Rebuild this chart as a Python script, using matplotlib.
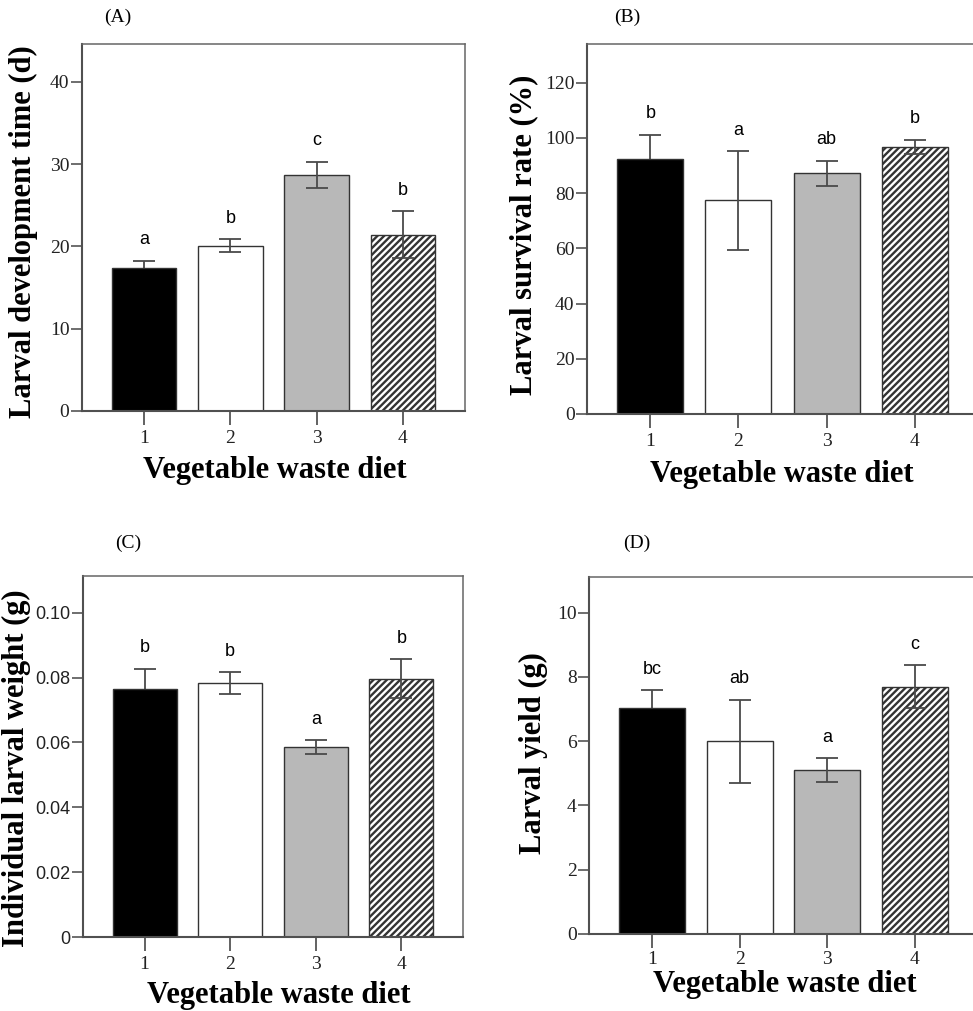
import matplotlib
matplotlib.use("Agg")
import matplotlib.pyplot as plt
import numpy as np

# data
diets = [1, 2, 3, 4]

dev_time = [17.4, 20.1, 28.7, 21.4]
dev_time_err = [0.85, 0.8, 1.6, 2.85]
dev_time_grp = ["a", "b", "c", "b"]

survival = [92.5, 77.4, 87.2, 96.7]
survival_err = [8.7, 17.9, 4.5, 2.7]
survival_grp = ["b", "a", "ab", "b"]

weight = [0.0764, 0.0782, 0.0585, 0.0796]
weight_err = [0.0063, 0.0034, 0.0021, 0.0060]
weight_grp = ["b", "b", "a", "b"]

yield_g = [7.04, 6.0, 5.1, 7.7]
yield_err = [0.54, 1.29, 0.37, 0.66]
yield_grp = ["bc", "ab", "a", "c"]

plt.rcParams['hatch.linewidth'] = 1.7
plt.rcParams['hatch.color'] = '#000000'

W, H = 973, 1011
fig = plt.figure(figsize=(W / 100, H / 100), dpi=100)

serif = 'Liberation Serif'
sans = 'Liberation Sans'

faces = ['#000000', '#ffffff', '#b8b8b8', '#ffffff']
hatches = [None, None, None, '/////']
ecol = '#4a4a4a'


def px_axes(l, t, r, b):
    return fig.add_axes([l / W, 1 - b / H, (r - l) / W, (b - t) / H])


def panel(ax, vals, errs, grps, ymax, yticks, ytl, ylabel, ytick_font,
          ylab_xy, xlab_xy, letter, letter_xy, xpad=4):
    bars = ax.bar(diets, vals, width=0.75, color=faces, edgecolor='#333333',
                  linewidth=1.0, zorder=2)
    for b, h in zip(bars, hatches):
        if h:
            b.set_hatch(h)
    # black bars: error bar sits behind the bar, so only the upper half shows
    for x, v, e, f in zip(diets, vals, errs, faces):
        z = 1 if f == '#000000' else 3
        ax.errorbar([x], [v], yerr=[e], fmt='none', ecolor=ecol,
                    elinewidth=1.3, capsize=8, capthick=1.3, zorder=z)
    for x, v, e, g in zip(diets, vals, errs, grps):
        ax.annotate(g, (x, v + e), xytext=(0, 15), textcoords='offset points',
                    ha='center', va='center', fontsize=13, family=sans)
    ax.set_xlim(0.28, 4.72)
    ax.set_ylim(0, ymax)
    ax.set_xticks(diets)
    ax.set_xticklabels([str(d) for d in diets], family=serif, fontsize=14)
    ax.set_yticks(yticks)
    ax.set_yticklabels(ytl, family=ytick_font, fontsize=14 if ytick_font == serif else 13)
    ax.tick_params(axis='x', length=10, width=1.3, color='#555555', pad=xpad,
                   labelcolor='#222222')
    ax.tick_params(axis='y', length=8, width=1.2, color='#555555', pad=1,
                   labelcolor='#222222')
    for s in ['left', 'bottom']:
        ax.spines[s].set_color('#505050')
        ax.spines[s].set_linewidth(1.5)
    for s in ['top', 'right']:
        ax.spines[s].set_color('#666666')
        ax.spines[s].set_linewidth(1.1)
    ax.set_ylabel(ylabel, family=serif, fontweight='bold', fontsize=22, va='center')
    ax.yaxis.set_label_coords(*ylab_xy)
    ax.set_xlabel('Vegetable waste diet', family=serif, fontweight='bold',
                  fontsize=22, va='center')
    ax.xaxis.set_label_coords(*xlab_xy)
    fig.text(letter_xy[0] / W, 1 - letter_xy[1] / H, letter, family=serif,
             fontsize=14, ha='center', va='center')


axA = px_axes(82, 44, 465, 411)
panel(axA, dev_time, dev_time_err, dev_time_grp, 44.6, [0, 10, 20, 30, 40],
      ['0', '10', '20', '30', '40'], 'Larval development time (d)', serif,
      (-0.154, 0.489), (0.504, -0.161), '(A)', (118, 17))

axB = px_axes(587, 44, 978, 414)
panel(axB, survival, survival_err, survival_grp, 134, [0, 20, 40, 60, 80, 100, 120],
      ['0', '20', '40', '60', '80', '100', '120'], 'Larval survival rate (%)', serif,
      (-0.163, 0.485), (0.499, -0.163), '(B)', (627, 17))

axC = px_axes(83, 576, 463, 937)
panel(axC, weight, weight_err, weight_grp, 0.1113, [0, 0.02, 0.04, 0.06, 0.08, 0.10],
      ['0', '0.02', '0.04', '0.06', '0.08', '0.10'], 'Individual larval weight (g)', sans,
      (-0.1745, 0.469), (0.515, -0.162), '(C)', (128, 543))

axD = px_axes(589, 577, 978, 934)
panel(axD, yield_g, yield_err, yield_grp, 11.11, [0, 2, 4, 6, 8, 10],
      ['0', '2', '4', '6', '8', '10'], 'Larval yield (g)', serif,
      (-0.144, 0.506), (0.504, -0.142), '(D)', (637, 543), xpad=2)

fig.savefig('out.png', dpi=100, facecolor='white')
